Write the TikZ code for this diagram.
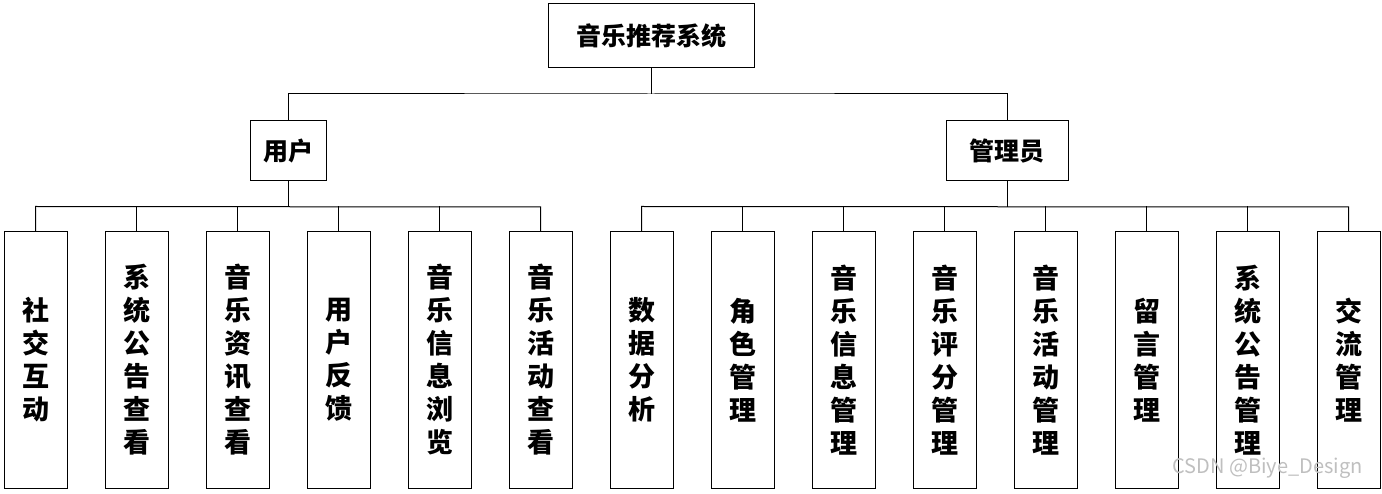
\documentclass[tikz,border=0pt]{standalone}
\usepackage{fontspec}
\setmainfont{Noto Sans CJK SC}
\begin{document}
\begin{tikzpicture}[x=1pt,y=-1pt,
 box/.style={draw,line width=1pt,inner sep=0pt,font=\fontsize{25}{30}\selectfont\bfseries},
 leaf/.style={draw,line width=1pt,minimum width=63pt,minimum height=256pt,inner sep=0pt,align=center,font=\fontsize{27}{33}\selectfont\bfseries},
 ln/.style={line width=1pt}]
\useasboundingbox (0,0) rectangle (1382,494);
\node[box,minimum width=206pt,minimum height=64pt] (root) at (651,36) {音乐推荐系统};
\node[box,minimum width=76pt,minimum height=60pt] (u) at (288,151) {用户};
\node[box,minimum width=122pt,minimum height=60pt] (a) at (1007,151) {管理员};
\coordinate (rb) at (651,94);
\draw[ln] (root.south) -- (rb);
\draw[ln] (u.north) |- (rb) -| (a.north);
\foreach \t [count=\i from 0] in {{社\\交\\互\\动},{系\\统\\公\\告\\查\\看},{音\\乐\\资\\讯\\查\\看},{用\\户\\反\\馈},{音\\乐\\信\\息\\浏\\览},{音\\乐\\活\\动\\查\\看},{数\\据\\分\\析},{角\\色\\管\\理},{音\\乐\\信\\息\\管\\理},{音\\乐\\评\\分\\管\\理},{音\\乐\\活\\动\\管\\理},{留\\言\\管\\理},{系\\统\\公\\告\\管\\理},{交\\流\\管\\理}} {
  \node[leaf] (l\i) at ({35.5+101*\i},360) {\t};
}
\coordinate (ub) at (288,207);
\coordinate (ab) at (1007,207);
\draw[ln] (u.south) -- (ub);
\draw[ln] (a.south) -- (ab);
\draw[ln] (l0.north) -- ++(0,-25) -- (l5.north |- ub) -- (l5.north);
\foreach \i in {1,...,4} { \draw[ln] (l\i.north) -- ++(0,-25); }
\draw[ln] (l6.north) -- ++(0,-25) -- (l13.north |- ab) -- (l13.north);
\foreach \i in {7,...,12} { \draw[ln] (l\i.north) -- ++(0,-25); }
\node[text=black!25,font=\fontsize{20}{24}\selectfont,anchor=east] (wm) at (1366,468) {CSDN @Biye\_Design};
\end{tikzpicture}
\end{document}
